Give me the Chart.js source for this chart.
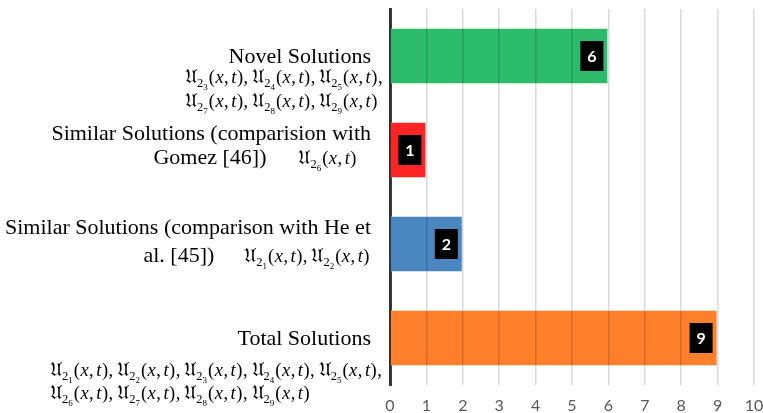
<!DOCTYPE html>
<html>
<head>
<meta charset="utf-8">
<script src="https://cdn.jsdelivr.net/npm/chart.js@4/dist/chart.umd.min.js"></script>
<style>
  html, body { margin: 0; padding: 0; background: #ffffff; }
  #wrap { width: 763px; height: 413px; }
</style>
</head>
<body>
<div id="wrap"><canvas id="chart" width="763" height="413"></canvas></div>
<script>
// Categories, top to bottom
const categories = [
  'Novel Solutions',
  'Similar Solutions (comparision with Gomez [46])',
  'Similar Solutions (comparison with He et al. [45])',
  'Total Solutions'
];
// Number of solutions in each category
const solutionCounts = [6, 1, 2, 9];
const barColors = ['#2BBB6B', '#FF2424', '#4A86C0', '#FF7F2A'];
const xTickValues = [0, 1, 2, 3, 4, 5, 6, 7, 8, 9, 10];

// Plain-text lines of each category label
const labelLines = [
  ['Novel Solutions'],
  ['Similar Solutions (comparision with', 'Gomez [46])'],
  ['Similar Solutions (comparison with He et', 'al. [45])'],
  ['Total Solutions']
];
// Solution indices k of U_{2_k}(x,t) listed under each label, one list per line
const solutionIndices = [
  [[3, 4, 5], [7, 8, 9]],
  [[6]],
  [[1, 2]],
  [[1, 2, 3, 4, 5], [6, 7, 8, 9]]
];

const SERIF = '"Liberation Serif", "Times New Roman", serif';
const FRAK = '"DejaVu Serif", "DejaVu Sans", serif';
const TEXT_FONT = '22px ' + SERIF;
const MATH_SIZE = 18.5;

// Draws one term U_{2_k}(x, t) starting at x (or only measures it), returns the end x
function drawTerm(ctx, x, y, k, dry) {
  const put = (s, font, dy) => {
    ctx.font = font;
    if (!dry) ctx.fillText(s, x, y + dy);
    x += ctx.measureText(s).width;
  };
  ctx.textAlign = 'left';
  ctx.textBaseline = 'alphabetic';
  put('\u{1D518}', '19px ' + FRAK, 0);
  put('2', '12.5px ' + SERIF, 3.5);
  put(String(k), '9px ' + SERIF, 7);
  x += 1;
  const parts = [['(', false], ['x', true], [',', false], ['t', true], [')', false]];
  for (const [s, it] of parts) {
    put(s, (it ? 'italic ' : '') + MATH_SIZE + 'px ' + SERIF, 0);
    x += s === ',' ? 2.5 : 0.5;
  }
  return x;
}

function drawTermLine(ctx, x, y, list, trailingComma, dry) {
  list.forEach((k, i) => {
    x = drawTerm(ctx, x, y, k, dry);
    if (i < list.length - 1 || trailingComma) {
      ctx.font = MATH_SIZE + 'px ' + SERIF;
      if (!dry) ctx.fillText(',', x, y);
      x += ctx.measureText(',').width + 4;
    }
  });
  return x;
}

// Category labels with their solution lists, placed from the y scale
const categoryLabelPlugin = {
  id: 'categoryLabels',
  afterDraw(chart) {
    const ctx = chart.ctx;
    const yScale = chart.scales.y;
    const right = chart.chartArea.left - 19;
    ctx.save();
    ctx.fillStyle = '#000000';
    categories.forEach((cat, i) => {
      const cy = yScale.getPixelForValue(i);
      const lines = labelLines[i];
      const terms = solutionIndices[i];
      ctx.font = TEXT_FONT;
      ctx.textBaseline = 'alphabetic';
      if (lines.length === 1) {
        // title beside the bar, solution list below it
        ctx.textAlign = 'right';
        ctx.fillText(lines[0], right, cy + 7);
        const termLeft = i === 0 ? 185 : 50;
        const first = i === 0 ? 27 : 38;
        const gap = i === 0 ? 24 : 23;
        terms.forEach((list, j) => {
          drawTermLine(ctx, termLeft, cy + first + j * gap, list, j < terms.length - 1, false);
        });
      } else {
        // two-line title, solution list at the end of the second line
        const up = -10;
        const down = i === 1 ? 14 : 18;
        ctx.textAlign = 'right';
        ctx.fillText(lines[0], right, cy + up);
        const mathRight = i === 1 ? right - 14 : right - 1;
        const w = drawTermLine(ctx, 0, 0, terms[0], false, true);
        const mathLeft = mathRight - w;
        drawTermLine(ctx, mathLeft, cy + down, terms[0], false, false);
        ctx.font = TEXT_FONT;
        ctx.textAlign = 'right';
        ctx.fillText(lines[1], mathLeft - (i === 1 ? 32 : 30), cy + down);
      }
    });
    ctx.restore();
  }
};

// Value boxes at the end of each bar
const valueBoxPlugin = {
  id: 'valueBoxes',
  afterDraw(chart) {
    const ctx = chart.ctx;
    const meta = chart.getDatasetMeta(0);
    ctx.save();
    meta.data.forEach((bar, i) => {
      const w = 23, h = 30;
      const x1 = bar.x - 5 - w;
      ctx.fillStyle = '#000000';
      ctx.fillRect(x1, bar.y - h / 2, w, h);
      ctx.fillStyle = '#ffffff';
      ctx.font = 'bold 16px Lato, "Open Sans", sans-serif';
      ctx.textAlign = 'center';
      ctx.textBaseline = 'middle';
      ctx.fillText(String(solutionCounts[i]), x1 + w / 2, bar.y + 1);
    });
    ctx.restore();
  }
};

new Chart(document.getElementById('chart'), {
  type: 'bar',
  data: {
    labels: categories,
    datasets: [{
      data: solutionCounts,
      backgroundColor: barColors,
      borderColor: 'rgba(255,255,255,0.35)',
      borderWidth: 1,
      barPercentage: 0.6,
      categoryPercentage: 1
    }]
  },
  options: {
    indexAxis: 'y',
    responsive: false,
    animation: false,
    devicePixelRatio: 1,
    layout: { padding: { top: 9, right: 0, left: 0, bottom: 0 } },
    plugins: { legend: { display: false }, tooltip: { enabled: false } },
    scales: {
      x: {
        min: 0,
        max: 10,
        afterBuildTicks(scale) { scale.ticks = xTickValues.map(v => ({ value: v })); },
        ticks: { color: '#595959', font: { family: 'Lato', size: 16 }, padding: 11 },
        grid: { color: 'rgba(0,0,0,0.15)', lineWidth: 1.5, z: 1, drawTicks: false },
        border: { display: false },
        afterFit(scale) {
          scale.height = 28;
          scale.paddingLeft = 0;
          scale.paddingRight = 9;
        }
      },
      y: {
        ticks: { display: false },
        grid: { display: false },
        border: { color: '#3a3a3a', width: 3 },
        afterFit(scale) { scale.width = 390; }
      }
    }
  },
  plugins: [categoryLabelPlugin, valueBoxPlugin]
});
</script>
</body>
</html>
